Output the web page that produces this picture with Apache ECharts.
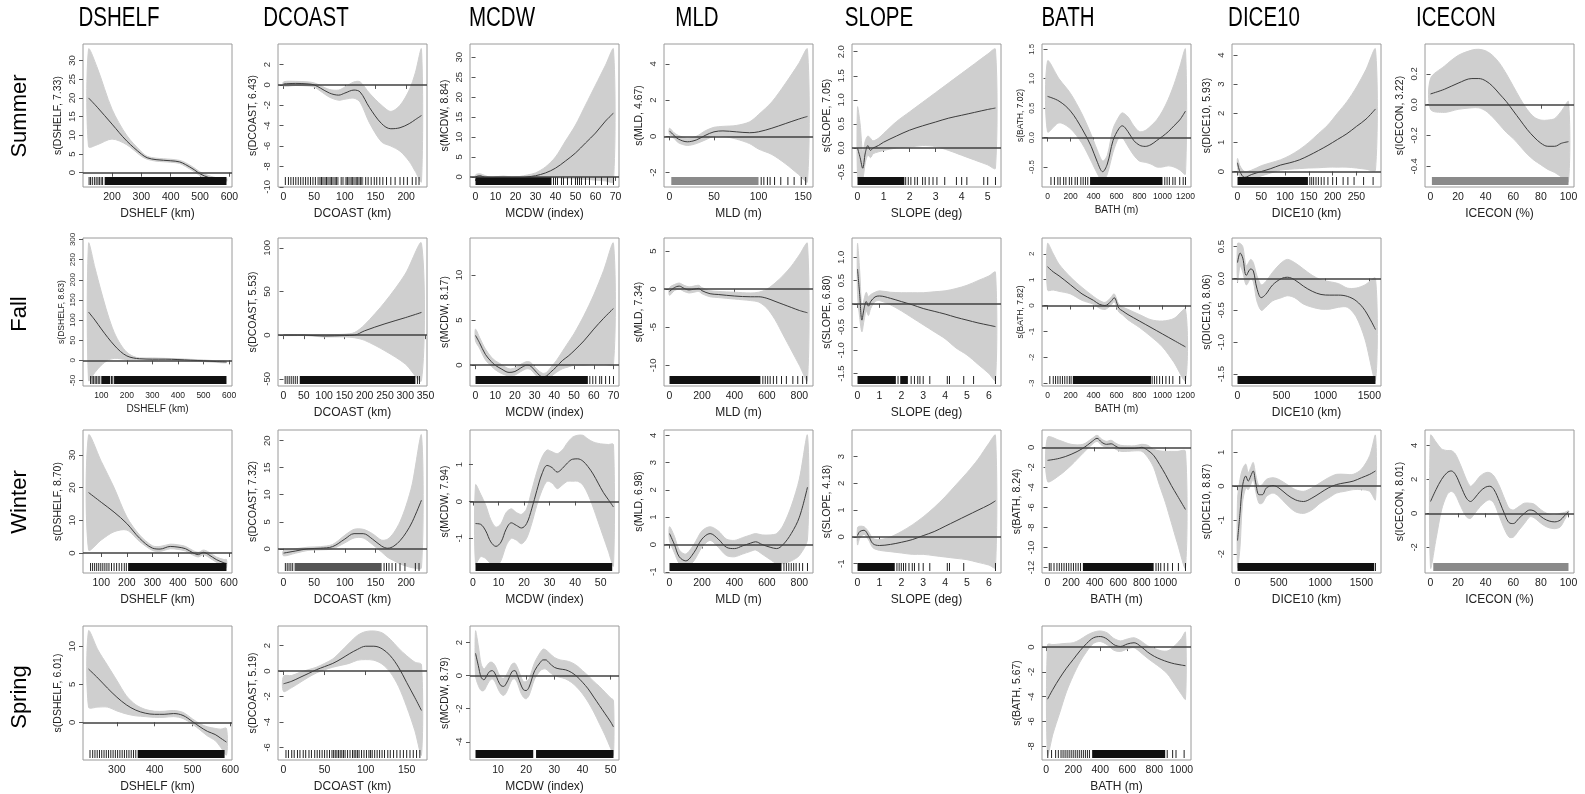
<!DOCTYPE html>
<html><head><meta charset="utf-8">
<script src="https://cdn.jsdelivr.net/npm/echarts@6/dist/echarts.min.js"></script>
<style>html,body{margin:0;padding:0;background:#fff}#c{width:1585px;height:794px}</style>
</head><body><div id="c"></div>
<script>
// ---------------- column / row labels ----------------
const colNames = ['DSHELF','DCOAST','MCDW','MLD','SLOPE','BATH','DICE10','ICECON'];
const rowNames = ['Summer','Fall','Winter','Spring'];

// ---------------- SUMMER ----------------
const S_DSHELF_x   = [120,150,200,250,300,320,350,400,430,450,480,500,530,560,590];
const S_DSHELF_fit = [20,17.5,13,8.5,5,4,3.5,3.2,2.9,2.2,0.8,-0.3,-1.3,-1.9,-1.9];
const S_DSHELF_hi  = [33,28,17,10,5.6,4.4,3.9,3.6,3.3,2.7,1.3,0.2,-0.8,-1.4,-1.4];
const S_DSHELF_lo  = [7,7.5,9,7.5,4.4,3.6,3.1,2.8,2.5,1.7,0.3,-0.8,-1.8,-2.4,-2.4];
const S_DSHELF_rugB = [[175,590]];
const S_DSHELF_rugT = [122,127,133,140,146,152,157,163,168];
const S_DSHELF_xt = [200,300,400,500,600];
const S_DSHELF_yt = [0,5,10,15,20,25,30];

const S_DCOAST_x   = [0,20,40,50,60,75,90,100,115,125,140,160,175,190,205,215,225];
const S_DCOAST_fit = [0.1,0.15,0.1,0,-0.3,-0.8,-1.0,-0.8,-0.5,-0.7,-2.2,-3.8,-4.3,-4.2,-3.8,-3.4,-3.0];
const S_DCOAST_hi  = [0.3,0.35,0.3,0.2,-0.05,-0.45,-0.5,-0.2,0.3,0.3,-0.8,-2.0,-2.6,-2.0,-0.5,1.2,3.5];
const S_DCOAST_lo  = [-0.1,-0.05,-0.1,-0.2,-0.6,-1.2,-1.5,-1.4,-1.3,-1.7,-3.7,-5.6,-6.0,-6.5,-7.5,-8.5,-9.5];
const S_DCOAST_rugB = [[55,90,0.55],[100,130,0.55]];
const S_DCOAST_rugT = [3,8,12,16,20,24,28,32,36,40,44,48,52,62,70,78,86,94,97,104,112,120,126,134,138,143,148,152,157,162,168,175,182,190,196,202,210,216,221];
const S_DCOAST_xt = [0,50,100,150,200];
const S_DCOAST_yt = [-10,-8,-6,-4,-2,0,2];

const S_MCDW_x   = [0,2,5,8,10,14,18,22,26,30,35,40,45,50,55,60,65,69];
const S_MCDW_fit = [0,0.3,-0.2,-0.7,-0.5,-0.2,-0.5,-0.4,0,0.3,1.0,2.2,4,6,8.5,11,14,16];
const S_MCDW_hi  = [0.5,0.8,0.3,-0.2,0,0.2,0,0.1,0.5,1.0,2.5,5,9,13,18,23,28,32];
const S_MCDW_lo  = [-0.5,-0.2,-0.7,-1.2,-1.0,-0.7,-1.0,-0.9,-0.5,-0.3,-0.1,-0.2,-0.4,-0.5,-0.6,-0.8,-1.0,-1.2];
const S_MCDW_rugB = [[0,38]];
const S_MCDW_rugT = [39,40,41,43,44,46,48,50,51,52,53,55,57,60,63,66,69];
const S_MCDW_xt = [0,10,20,30,40,50,60,70];
const S_MCDW_yt = [0,5,10,15,20,25,30];

const S_MLD_x   = [0,5,10,20,30,40,50,60,75,90,100,115,130,145,155];
const S_MLD_fit = [0.3,0.05,-0.15,-0.3,-0.2,0.05,0.25,0.3,0.25,0.2,0.25,0.45,0.7,0.95,1.1];
const S_MLD_hi  = [0.45,0.2,0.05,-0.1,0,0.3,0.5,0.55,0.6,0.8,1.2,1.9,2.9,4.0,4.8];
const S_MLD_lo  = [0.1,-0.1,-0.35,-0.5,-0.4,-0.2,0,0,-0.15,-0.4,-0.7,-1.0,-1.5,-2.1,-2.5];
const S_MLD_rugB = [[2,100,0.55]];
const S_MLD_rugT = [103,106,110,113,118,125,133,140,148,153];
const S_MLD_xt = [0,50,100,150];
const S_MLD_yt = [-2,0,2,4];

const S_SLOPE_x   = [0,0.1,0.2,0.3,0.4,0.5,0.6,0.8,1,1.5,2,2.5,3,3.5,4,4.5,5,5.3];
const S_SLOPE_fit = [0,-0.2,-0.42,-0.1,0.05,-0.05,0,0.05,0.12,0.25,0.37,0.46,0.54,0.62,0.68,0.74,0.8,0.83];
const S_SLOPE_hi  = [0.85,0.5,-0.1,0.15,0.25,0.2,0.15,0.2,0.3,0.55,0.75,0.95,1.15,1.35,1.55,1.75,1.95,2.05];
const S_SLOPE_lo  = [-0.6,-0.7,-0.65,-0.3,-0.15,-0.2,-0.12,-0.08,-0.05,0,0.02,0.05,0.03,-0.05,-0.15,-0.25,-0.35,-0.42];
const S_SLOPE_rugB = [[0,1.8]];
const S_SLOPE_rugT = [1.85,1.95,2.05,2.2,2.3,2.5,2.6,2.75,2.9,3.05,3.35,3.8,4.0,4.2,4.85,5.0,5.3];
const S_SLOPE_xt = [0,1,2,3,4,5];
const S_SLOPE_yt = [-0.5,0,0.5,1,1.5,2];

const S_BATH_x   = [0,100,200,300,380,430,480,520,570,620,650,700,750,800,850,900,950,1000,1050,1100,1150,1200];
const S_BATH_fit = [0.7,0.62,0.45,0.15,-0.15,-0.4,-0.58,-0.45,-0.05,0.15,0.2,0.1,-0.05,-0.13,-0.15,-0.12,-0.05,0.02,0.1,0.2,0.3,0.45];
const S_BATH_hi  = [1.3,1.0,0.75,0.4,0.05,-0.2,-0.4,-0.3,0.15,0.35,0.42,0.35,0.2,0.1,0.12,0.2,0.3,0.45,0.65,0.9,1.2,1.5];
const S_BATH_lo  = [0.1,0.25,0.15,-0.1,-0.4,-0.6,-0.75,-0.62,-0.25,0,0,-0.15,-0.3,-0.4,-0.42,-0.45,-0.5,-0.5,-0.48,-0.5,-0.55,-0.62];
const S_BATH_rugB = [[370,1000]];
const S_BATH_rugT = [30,60,90,110,140,160,190,210,240,260,290,310,330,350,1020,1040,1060,1090,1110,1150,1180,1200];
const S_BATH_xt = [0,200,400,600,800,1000,1200];
const S_BATH_yt = [-0.5,0,0.5,1,1.5];

const S_DICE10_x   = [0,5,15,30,50,70,90,110,130,150,170,190,210,230,250,270,290];
const S_DICE10_fit = [0.3,0,-0.2,-0.1,0,0.1,0.22,0.3,0.4,0.55,0.72,0.9,1.1,1.3,1.55,1.8,2.15];
const S_DICE10_hi  = [0.45,0.2,0,0.05,0.2,0.3,0.4,0.55,0.75,1.0,1.3,1.6,2.0,2.4,2.9,3.5,4.2];
const S_DICE10_lo  = [0.15,-0.2,-0.35,-0.25,-0.15,-0.05,0.05,0.08,0.1,0.12,0.13,0.15,0.15,0.15,0.12,0.08,0.05];
const S_DICE10_rugB = [[0,148]];
const S_DICE10_rugT = [152,156,160,165,170,176,182,190,200,208,222,232,245,265,285];
const S_DICE10_xt = [0,50,100,150,200,250];
const S_DICE10_yt = [0,1,2,3,4];

const S_ICECON_x   = [0,10,20,30,35,40,45,50,55,60,65,70,75,80,85,90,95,100];
const S_ICECON_fit = [0.07,0.1,0.14,0.17,0.17,0.155,0.12,0.07,0.02,-0.04,-0.1,-0.16,-0.21,-0.25,-0.27,-0.27,-0.25,-0.24];
const S_ICECON_hi  = [0.17,0.25,0.32,0.355,0.36,0.35,0.32,0.27,0.2,0.12,0.04,-0.03,-0.08,-0.1,-0.1,-0.09,-0.04,0.02];
const S_ICECON_lo  = [-0.03,-0.05,-0.03,-0.02,-0.02,-0.04,-0.08,-0.13,-0.18,-0.22,-0.27,-0.32,-0.36,-0.39,-0.42,-0.44,-0.47,-0.5];
const S_ICECON_rugB = [[1,100,0.55]];
const S_ICECON_rugT = [];
const S_ICECON_xt = [0,20,40,60,80,100];
const S_ICECON_yt = [-0.4,-0.2,0,0.2];

// ---------------- FALL ----------------
const F_DSHELF_x   = [50,75,100,125,150,175,200,225,250,300,350,400,450,500,550,590];
const F_DSHELF_fit = [120,100,78,57,38,22,11,6,4,3,3,2,0.5,-1,-3,-4];
const F_DSHELF_hi  = [290,230,170,115,70,40,20,10,6,6,5,4,2.5,1,-1,-2];
const F_DSHELF_lo  = [-50,-30,-12,0,5,4,2,2,2,0.5,1,0,-1.5,-3,-5,-6];
const F_DSHELF_rugB = [[100,135],[150,590]];
const F_DSHELF_rugT = [58,64,70,76,82,88,94,140,145];
const F_DSHELF_xt = [100,200,300,400,500,600];
const F_DSHELF_yt = [-50,0,50,100,150,200,250,300];

const F_DCOAST_x   = [0,50,100,150,175,200,250,300,340];
const F_DCOAST_fit = [0,0,-1,-0.5,0,5,13,20,26];
const F_DCOAST_hi  = [0.5,0.5,0.5,1,3,12,38,70,105];
const F_DCOAST_lo  = [-0.5,-0.5,-2,-2,-3,-6,-18,-33,-52];
const F_DCOAST_rugB = [[40,325]];
const F_DCOAST_rugT = [4,9,14,19,24,29,34,330,335];
const F_DCOAST_xt = [0,50,100,150,200,250,300,350];
const F_DCOAST_yt = [-50,0,50,100];

const F_MCDW_x   = [0,2,5,8,10,13,17,20,23,26,28,31,34,36,38,41,44,47,50,55,60,65,70];
const F_MCDW_fit = [3.3,2.5,1.2,0.4,0,-0.4,-0.8,-0.7,-0.3,0,-0.1,-0.8,-1.3,-1.2,-0.8,-0.2,0.5,1.0,1.6,2.7,4.0,5.2,6.3];
const F_MCDW_hi  = [4.0,3.1,1.8,0.9,0.5,0.1,-0.4,-0.3,0.1,0.4,0.3,-0.4,-0.9,-0.8,-0.3,0.5,1.5,2.5,3.5,5.5,7.8,10.5,13.5];
const F_MCDW_lo  = [2.7,1.9,0.6,-0.1,-0.5,-0.9,-1.2,-1.1,-0.7,-0.4,-0.5,-1.2,-1.7,-1.6,-1.3,-0.8,-0.4,-0.2,0,0,0.1,0.1,0.1];
const F_MCDW_rugB = [[0,57]];
const F_MCDW_rugT = [58,59.5,61,63,64,66,68,70];
const F_MCDW_xt = [0,10,20,30,40,50,60,70];
const F_MCDW_yt = [0,5,10];

const F_MLD_x   = [0,30,60,90,120,150,180,200,250,300,400,500,550,600,650,700,750,800,850];
const F_MLD_fit = [-0.3,0.2,0.4,0.1,-0.1,0,0.1,-0.2,-0.6,-0.7,-0.9,-1.0,-1.0,-1.2,-1.6,-2.0,-2.4,-2.8,-3.1];
const F_MLD_hi  = [0.2,0.6,0.8,0.5,0.3,0.4,0.5,0.2,-0.2,-0.3,-0.4,-0.5,-0.4,0,0.8,1.8,3,4.5,6];
const F_MLD_lo  = [-0.8,-0.2,0,-0.3,-0.5,-0.4,-0.3,-0.6,-1.0,-1.1,-1.3,-1.5,-1.7,-2.5,-4,-6,-8,-10,-12];
const F_MLD_rugB = [[0,560]];
const F_MLD_rugT = [575,590,605,620,640,660,690,720,760,790,820,845];
const F_MLD_xt = [0,200,400,600,800];
const F_MLD_yt = [-10,-5,0,5];

const F_SLOPE_x   = [0,0.1,0.2,0.3,0.4,0.5,0.6,0.8,1,1.5,2,2.5,3,3.5,4,4.5,5,5.5,6,6.3];
const F_SLOPE_fit = [0.75,0.2,-0.35,-0.1,0.05,-0.05,0.05,0.15,0.17,0.12,0.05,-0.02,-0.1,-0.16,-0.22,-0.29,-0.35,-0.41,-0.46,-0.49];
const F_SLOPE_hi  = [1.3,0.7,-0.1,0.1,0.25,0.15,0.2,0.25,0.28,0.25,0.24,0.24,0.24,0.26,0.28,0.33,0.4,0.5,0.6,0.68];
const F_SLOPE_lo  = [0.2,-0.3,-0.6,-0.35,-0.15,-0.25,-0.1,0.05,0.07,-0.02,-0.15,-0.3,-0.45,-0.6,-0.75,-0.95,-1.1,-1.3,-1.5,-1.65];
const F_SLOPE_rugB = [[0,1.75],[1.95,2.3]];
const F_SLOPE_rugT = [1.85,2.45,2.6,2.75,2.85,3.0,3.3,4.1,4.2,4.85,5.3,6.3];
const F_SLOPE_xt = [0,1,2,3,4,5,6];
const F_SLOPE_yt = [-1.5,-1,-0.5,0,0.5,1];

const F_BATH_x   = [0,50,100,200,300,400,450,500,550,580,620,650,700,800,900,1000,1100,1200];
const F_BATH_fit = [1.5,1.3,1.15,0.8,0.45,0.2,0.05,0,0.15,0.3,-0.1,-0.2,-0.35,-0.6,-0.85,-1.1,-1.35,-1.6];
const F_BATH_hi  = [2.4,2.0,1.6,1.1,0.7,0.35,0.2,0.12,0.3,0.45,0.05,-0.05,-0.15,-0.35,-0.55,-0.6,-0.5,-0.15];
const F_BATH_lo  = [0.6,0.6,0.55,0.45,0.2,0.05,-0.1,-0.15,0,0.15,-0.25,-0.35,-0.55,-0.85,-1.2,-1.6,-2.2,-2.9];
const F_BATH_rugB = [[220,900]];
const F_BATH_rugT = [20,50,70,90,110,130,150,170,190,205,910,930,950,975,1000,1030,1060,1090,1150,1200];
const F_BATH_xt = [0,200,400,600,800,1000,1200];
const F_BATH_yt = [-3,-2,-1,0,1,2];

const F_DICE10_x   = [0,30,60,100,150,180,220,270,320,400,500,570,650,750,850,950,1050,1150,1250,1350,1450,1570];
const F_DICE10_fit = [0.25,0.4,0.32,0.05,0.15,0.12,-0.15,-0.3,-0.25,-0.1,0,0.02,-0.02,-0.12,-0.2,-0.25,-0.26,-0.26,-0.28,-0.35,-0.5,-0.8];
const F_DICE10_hi  = [0.55,0.55,0.5,0.2,0.3,0.25,0.05,-0.1,-0.05,0.1,0.25,0.3,0.25,0.15,0.05,-0.02,-0.05,-0.08,-0.15,-0.15,-0.1,0.0];
const F_DICE10_lo  = [-0.05,0.2,0.1,-0.1,0,-0.05,-0.35,-0.5,-0.45,-0.35,-0.3,-0.27,-0.3,-0.4,-0.45,-0.48,-0.48,-0.45,-0.45,-0.6,-0.95,-1.6];
const F_DICE10_rugB = [[0,1570]];
const F_DICE10_rugT = [];
const F_DICE10_xt = [0,500,1000,1500];
const F_DICE10_yt = [-1.5,-1,-0.5,0,0.5];

// ---------------- WINTER ----------------
const W_DSHELF_x   = [50,100,150,200,250,300,330,370,400,430,460,480,500,520,550,580,590];
const W_DSHELF_fit = [18.5,15.5,12.5,9,4.5,1.5,1.2,2,1.8,1.3,0,-0.5,0.2,-0.5,-2,-3,-3.2];
const W_DSHELF_hi  = [36,28,20,11,5.5,2.2,2,2.7,2.5,2,0.7,0.2,0.9,0.3,-1.2,-2,-2];
const W_DSHELF_lo  = [1,4,6.5,7,3.5,0.8,0.5,1.3,1.1,0.6,-0.7,-1.2,-0.5,-1.3,-2.8,-4,-4.5];
const W_DSHELF_rugB = [[205,590]];
const W_DSHELF_rugT = [58,66,74,82,90,98,106,114,122,130,140,150,160,170,180,190,198];
const W_DSHELF_xt = [100,200,300,400,500,600];
const W_DSHELF_yt = [0,10,20,30];

const W_DCOAST_x   = [0,20,40,60,80,100,115,130,145,160,170,180,190,200,210,225];
const W_DCOAST_fit = [-0.8,-0.4,0,0.1,0.4,1.8,2.8,2.8,1.8,0.5,0.1,0.5,1.5,3,5,9];
const W_DCOAST_hi  = [-0.3,0,0.3,0.4,0.8,2.5,3.6,3.6,2.8,1.6,1.8,3,5,8,12,21];
const W_DCOAST_lo  = [-1.3,-0.8,-0.3,-0.2,0,1.1,2,2,0.8,-0.6,-1.6,-2.2,-2.8,-3.2,-3.5,-3.5];
const W_DCOAST_rugB = [[18,160,0.7]];
const W_DCOAST_rugT = [3,6,9,12,15,164,168,172,177,183,190,198,215,221];
const W_DCOAST_xt = [0,50,100,150,200];
const W_DCOAST_yt = [0,5,10,15,20];

const W_MCDW_x   = [1,3,5,7,9,11,13,15,17,19,21,23,25,27,29,31,33,35,37,39,41,43,45,47,49,51,53,55];
const W_MCDW_fit = [-0.6,-0.62,-0.8,-1.1,-1.22,-1.1,-0.75,-0.58,-0.65,-0.72,-0.6,-0.2,0.3,0.75,0.98,0.92,0.8,0.9,1.05,1.15,1.16,1.1,0.95,0.75,0.5,0.25,0.05,-0.15];
const W_MCDW_hi  = [0.45,0.2,-0.1,-0.5,-0.7,-0.6,-0.3,-0.2,-0.3,-0.35,-0.2,0.3,0.8,1.2,1.4,1.35,1.3,1.4,1.6,1.75,1.8,1.8,1.7,1.62,1.58,1.56,1.55,1.55];
const W_MCDW_lo  = [-1.7,-1.5,-1.55,-1.7,-1.8,-1.6,-1.2,-1.0,-1.05,-1.15,-1.0,-0.6,-0.1,0.3,0.55,0.5,0.35,0.45,0.55,0.55,0.55,0.45,0.2,-0.15,-0.55,-0.95,-1.35,-1.75];
const W_MCDW_rugB = [[1,54.5]];
const W_MCDW_rugT = [];
const W_MCDW_xt = [0,10,20,30,40,50];
const W_MCDW_yt = [-1,0,1];

const W_MLD_x   = [0,30,60,100,150,200,250,300,350,400,450,500,530,570,620,660,700,750,800,850];
const W_MLD_fit = [0.4,0,-0.45,-0.6,-0.3,0.2,0.4,0.2,-0.1,-0.15,-0.05,0.05,0.1,0,-0.1,-0.15,0,0.4,1.0,2.1];
const W_MLD_hi  = [0.65,0.3,-0.2,-0.35,0,0.5,0.65,0.5,0.2,0.15,0.25,0.35,0.4,0.35,0.35,0.4,0.7,1.4,2.4,4.0];
const W_MLD_lo  = [0.15,-0.3,-0.7,-0.85,-0.6,-0.1,0.15,-0.1,-0.4,-0.45,-0.35,-0.25,-0.2,-0.35,-0.55,-0.7,-0.7,-0.6,-0.4,0.2];
const W_MLD_rugB = [[0,690]];
const W_MLD_rugT = [705,720,735,750,765,780,800,820,850];
const W_MLD_xt = [0,200,400,600,800];
const W_MLD_yt = [-1,0,1,2,3,4];

const W_SLOPE_x   = [0,0.1,0.3,0.5,0.7,1,1.5,2,2.5,3,3.5,4,4.5,5,5.5,6,6.3];
const W_SLOPE_fit = [0.05,0.2,0.25,0.05,-0.25,-0.32,-0.28,-0.2,-0.1,0.05,0.2,0.4,0.6,0.8,1.0,1.2,1.35];
const W_SLOPE_hi  = [0.35,0.4,0.38,0.2,-0.05,-0.1,0,0.2,0.45,0.75,1.1,1.5,1.95,2.4,2.9,3.5,3.8];
const W_SLOPE_lo  = [-0.3,-0.05,0.1,-0.1,-0.4,-0.5,-0.55,-0.6,-0.65,-0.65,-0.7,-0.75,-0.8,-0.85,-0.95,-1.05,-1.15];
const W_SLOPE_rugB = [[0,1.7]];
const W_SLOPE_rugT = [1.8,1.9,2.0,2.1,2.2,2.35,2.5,2.6,2.8,3.0,3.3,4.1,4.2,4.85,6.3];
const W_SLOPE_xt = [0,1,2,3,4,5,6];
const W_SLOPE_yt = [-1,0,1,2,3,4];

const W_BATH_x   = [0,100,200,300,380,420,460,500,540,580,620,680,740,800,850,900,950,1000,1050,1100,1170];
const W_BATH_fit = [-1.3,-1.1,-0.7,-0.1,0.6,0.9,0.5,0.3,0.35,0.1,-0.1,-0.1,-0.1,0,-0.3,-0.8,-1.7,-2.7,-3.8,-4.8,-6.2];
const W_BATH_hi  = [1.0,0.7,0.3,0.3,0.9,1.2,0.8,0.6,0.7,0.4,0.2,0.15,0.15,0.3,0.2,-0.2,-0.35,-0.4,-0.4,-0.4,-0.4];
const W_BATH_lo  = [-3.4,-2.8,-1.8,-0.6,0.3,0.6,0.2,0,0.05,-0.2,-0.4,-0.4,-0.35,-0.4,-1.0,-2.0,-3.8,-5.5,-7.5,-9.5,-12];
const W_BATH_rugB = [[300,900]];
const W_BATH_rugT = [15,30,55,80,100,120,140,160,180,200,220,240,260,280,920,940,960,990,1020,1060,1110,1170];
const W_BATH_xt = [0,200,400,600,800,1000];
const W_BATH_yt = [-12,-10,-8,-6,-4,-2,0];

const W_DICE10_x   = [0,30,60,100,130,160,190,220,260,300,350,430,500,600,700,800,900,1000,1100,1200,1300,1400,1500,1600,1670];
const W_DICE10_fit = [-1.6,-0.8,0,0.3,0.15,0.3,0.45,0.1,-0.25,-0.25,-0.05,0.02,-0.05,-0.25,-0.4,-0.45,-0.35,-0.2,-0.05,0.05,0.1,0.15,0.25,0.35,0.45];
const W_DICE10_hi  = [-0.4,0.2,0.5,0.65,0.4,0.55,0.7,0.35,0,0.05,0.2,0.25,0.2,0.05,-0.1,-0.15,-0.05,0.1,0.25,0.35,0.35,0.35,0.5,0.9,1.5];
const W_DICE10_lo  = [-2.4,-1.8,-0.5,-0.05,-0.1,0.05,0.2,-0.15,-0.5,-0.5,-0.3,-0.2,-0.3,-0.55,-0.75,-0.8,-0.7,-0.5,-0.35,-0.2,-0.15,-0.1,-0.1,-0.15,-0.4];
const W_DICE10_rugB = [[0,1655]];
const W_DICE10_rugT = [1670];
const W_DICE10_xt = [0,500,1000,1500];
const W_DICE10_yt = [-2,-1,0,1];

const W_ICECON_x   = [0,4,8,12,15,18,22,26,29,32,36,40,43,46,50,54,57,60,64,68,72,75,78,82,86,90,94,97,100];
const W_ICECON_fit = [0.7,1.4,2.0,2.4,2.5,2.3,1.6,0.9,0.7,0.9,1.3,1.55,1.6,1.4,0.7,-0.1,-0.55,-0.6,-0.3,0,0.2,0.15,-0.05,-0.3,-0.45,-0.5,-0.4,-0.15,0.1];
const W_ICECON_hi  = [4.6,4.2,3.8,3.7,3.7,3.5,2.8,2.0,1.6,1.8,2.2,2.4,2.4,2.2,1.6,0.8,0.3,0.2,0.4,0.6,0.6,0.55,0.35,0.1,-0.05,-0.1,0,0.05,0.15];
const W_ICECON_lo  = [-3.2,-1.5,0.2,1.1,1.3,1.1,0.4,-0.2,-0.3,0,0.4,0.7,0.8,0.6,-0.2,-1.0,-1.4,-1.4,-1.0,-0.6,-0.2,-0.25,-0.45,-0.7,-0.85,-0.9,-0.8,-0.4,0.05];
const W_ICECON_rugB = [[2,100,0.55]];
const W_ICECON_rugT = [];
const W_ICECON_xt = [0,20,40,60,80,100];
const W_ICECON_yt = [-2,0,2,4];

// ---------------- SPRING ----------------
const P_DSHELF_x   = [225,250,275,300,325,350,375,400,425,450,475,500,520,540,560,575,590];
const P_DSHELF_fit = [7,5.8,4.5,3.3,2.3,1.6,1.2,1.05,1.05,1.15,0.9,0.1,-0.6,-1.2,-1.6,-2.1,-2.6];
const P_DSHELF_hi  = [12,9.5,7.5,5.5,3.5,2.3,1.7,1.45,1.45,1.55,1.3,0.45,-0.2,-0.6,-0.8,-0.9,-0.8];
const P_DSHELF_lo  = [2,2,2,1.5,1.1,0.85,0.75,0.65,0.65,0.75,0.5,-0.25,-1.0,-1.8,-2.4,-3.3,-4.3];
const P_DSHELF_rugB = [[355,585]];
const P_DSHELF_rugT = [229,236,242,248,254,260,266,272,278,284,290,296,302,308,314,320,326,332,338,344,350];
const P_DSHELF_xt = [300,400,500,600];
const P_DSHELF_yt = [0,5,10];

const P_DCOAST_x   = [0,10,20,30,40,50,60,70,80,90,100,110,120,130,140,150,160,168];
const P_DCOAST_fit = [-1.0,-0.8,-0.5,-0.2,0.1,0.35,0.6,0.95,1.35,1.7,1.95,1.95,1.75,1.2,0.3,-0.9,-2.1,-3.1];
const P_DCOAST_hi  = [-0.4,-0.35,-0.1,0.1,0.3,0.6,0.95,1.55,2.2,2.8,3.1,3.15,3.0,2.5,1.8,1.2,0.7,0.5];
const P_DCOAST_lo  = [-1.6,-1.3,-0.9,-0.5,-0.15,0.1,0.3,0.45,0.6,0.85,0.9,0.85,0.55,-0.1,-1.2,-2.8,-4.7,-6.6];
const P_DCOAST_rugB = [];
const P_DCOAST_rugT = [3,6,10,13,17,20,24,27,31,34,38,41,44,47,50,53,56,59,61,63,65,67,69,71,73,75,78,81,84,86,88,90,92,95,98,101,104,106,108,111,114,117,120,123,127,130,134,138,142,146,150,154,158,162,166];
const P_DCOAST_xt = [0,50,100,150];
const P_DCOAST_yt = [-6,-4,-2,0,2];

const P_MCDW_x   = [2,3,4,5,6,7,8,9,10,11,12,13,14,15,16,17,18,19,20,21,22,23,25,26,27,28,30,32,34,36,38,40,42,44,46,48,50,51];
const P_MCDW_fit = [1.35,0.6,-0.1,-0.25,0,0.25,0.3,0.1,-0.3,-0.6,-0.65,-0.45,-0.1,0.25,0.3,-0.05,-0.5,-0.85,-0.9,-0.7,-0.2,0.3,0.8,0.95,0.95,0.8,0.5,0.4,0.35,0.2,-0.05,-0.4,-0.8,-1.3,-1.8,-2.3,-2.8,-3.1];
const P_MCDW_hi  = [2.7,1.8,0.7,0.4,0.6,0.8,0.8,0.6,0.2,-0.1,-0.15,0.05,0.4,0.7,0.75,0.45,0,-0.35,-0.35,-0.2,0.3,0.8,1.4,1.6,1.55,1.4,1.1,0.95,0.9,0.8,0.6,0.3,0,-0.35,-0.65,-1.0,-1.35,-1.5];
const P_MCDW_lo  = [0,-0.6,-0.9,-0.9,-0.6,-0.3,-0.2,-0.4,-0.8,-1.1,-1.2,-1.0,-0.6,-0.25,-0.2,-0.5,-1.0,-1.3,-1.4,-1.2,-0.7,-0.2,0.3,0.4,0.4,0.25,0,-0.1,-0.2,-0.4,-0.7,-1.1,-1.6,-2.2,-2.9,-3.6,-4.4,-4.8];
const P_MCDW_rugB = [[2,22.5],[23.5,51]];
const P_MCDW_rugT = [];
const P_MCDW_xt = [10,20,30,40,50];
const P_MCDW_yt = [-4,-2,0,2];

const P_BATH_x   = [10,50,100,150,200,250,300,350,400,450,500,550,600,650,700,750,800,850,900,950,1000,1030];
const P_BATH_fit = [-4.2,-3.4,-2.5,-1.7,-1.0,-0.3,0.3,0.75,0.85,0.65,0.2,0.05,0.25,0.35,0.05,-0.4,-0.75,-1.0,-1.2,-1.35,-1.45,-1.5];
const P_BATH_hi  = [0.2,0.2,0.25,0.3,0.35,0.6,0.95,1.2,1.3,1.15,0.7,0.5,0.65,0.75,0.5,0.1,-0.1,-0.3,-0.3,0.1,0.7,1.2];
const P_BATH_lo  = [-8.7,-7,-5.3,-3.6,-2.3,-1.2,-0.35,0.3,0.45,0.2,-0.25,-0.35,-0.15,-0.05,-0.45,-0.9,-1.3,-1.7,-2.2,-3.0,-3.8,-4.2];
const P_BATH_rugB = [[340,880]];
const P_BATH_rugT = [12,40,70,90,110,125,140,155,170,185,200,215,230,245,260,275,290,305,320,895,935,960,1020];
const P_BATH_xt = [0,200,400,600,800,1000];
const P_BATH_yt = [-8,-6,-4,-2,0];

// ---------------- panel list (row, column, labels, arrays) ----------------
const panels = [
  {r:0,c:0,yName:'s(DSHELF, 7.33)',xName:'DSHELF (km)',x:S_DSHELF_x,fit:S_DSHELF_fit,hi:S_DSHELF_hi,lo:S_DSHELF_lo,rb:S_DSHELF_rugB,rt:S_DSHELF_rugT,xt:S_DSHELF_xt,yt:S_DSHELF_yt},
  {r:0,c:1,yName:'s(DCOAST, 6.43)',xName:'DCOAST (km)',x:S_DCOAST_x,fit:S_DCOAST_fit,hi:S_DCOAST_hi,lo:S_DCOAST_lo,rb:S_DCOAST_rugB,rt:S_DCOAST_rugT,xt:S_DCOAST_xt,yt:S_DCOAST_yt},
  {r:0,c:2,yName:'s(MCDW, 8.84)',xName:'MCDW (index)',x:S_MCDW_x,fit:S_MCDW_fit,hi:S_MCDW_hi,lo:S_MCDW_lo,rb:S_MCDW_rugB,rt:S_MCDW_rugT,xt:S_MCDW_xt,yt:S_MCDW_yt},
  {r:0,c:3,yName:'s(MLD, 4.67)',xName:'MLD (m)',x:S_MLD_x,fit:S_MLD_fit,hi:S_MLD_hi,lo:S_MLD_lo,rb:S_MLD_rugB,rt:S_MLD_rugT,xt:S_MLD_xt,yt:S_MLD_yt},
  {r:0,c:4,yName:'s(SLOPE, 7.05)',xName:'SLOPE (deg)',x:S_SLOPE_x,fit:S_SLOPE_fit,hi:S_SLOPE_hi,lo:S_SLOPE_lo,rb:S_SLOPE_rugB,rt:S_SLOPE_rugT,xt:S_SLOPE_xt,yt:S_SLOPE_yt},
  {r:0,c:5,yName:'s(BATH, 7.02)',xName:'BATH (m)',x:S_BATH_x,fit:S_BATH_fit,hi:S_BATH_hi,lo:S_BATH_lo,rb:S_BATH_rugB,rt:S_BATH_rugT,xt:S_BATH_xt,yt:S_BATH_yt,small:true},
  {r:0,c:6,yName:'s(DICE10, 5.93)',xName:'DICE10 (km)',x:S_DICE10_x,fit:S_DICE10_fit,hi:S_DICE10_hi,lo:S_DICE10_lo,rb:S_DICE10_rugB,rt:S_DICE10_rugT,xt:S_DICE10_xt,yt:S_DICE10_yt},
  {r:0,c:7,yName:'s(ICECON, 3.22)',xName:'ICECON (%)',x:S_ICECON_x,fit:S_ICECON_fit,hi:S_ICECON_hi,lo:S_ICECON_lo,rb:S_ICECON_rugB,rt:S_ICECON_rugT,xt:S_ICECON_xt,yt:S_ICECON_yt},

  {r:1,c:0,yName:'s(DSHELF, 8.63)',xName:'DSHELF (km)',x:F_DSHELF_x,fit:F_DSHELF_fit,hi:F_DSHELF_hi,lo:F_DSHELF_lo,rb:F_DSHELF_rugB,rt:F_DSHELF_rugT,xt:F_DSHELF_xt,yt:F_DSHELF_yt,small:true},
  {r:1,c:1,yName:'s(DCOAST, 5.53)',xName:'DCOAST (km)',x:F_DCOAST_x,fit:F_DCOAST_fit,hi:F_DCOAST_hi,lo:F_DCOAST_lo,rb:F_DCOAST_rugB,rt:F_DCOAST_rugT,xt:F_DCOAST_xt,yt:F_DCOAST_yt},
  {r:1,c:2,yName:'s(MCDW, 8.17)',xName:'MCDW (index)',x:F_MCDW_x,fit:F_MCDW_fit,hi:F_MCDW_hi,lo:F_MCDW_lo,rb:F_MCDW_rugB,rt:F_MCDW_rugT,xt:F_MCDW_xt,yt:F_MCDW_yt},
  {r:1,c:3,yName:'s(MLD, 7.34)',xName:'MLD (m)',x:F_MLD_x,fit:F_MLD_fit,hi:F_MLD_hi,lo:F_MLD_lo,rb:F_MLD_rugB,rt:F_MLD_rugT,xt:F_MLD_xt,yt:F_MLD_yt},
  {r:1,c:4,yName:'s(SLOPE, 6.80)',xName:'SLOPE (deg)',x:F_SLOPE_x,fit:F_SLOPE_fit,hi:F_SLOPE_hi,lo:F_SLOPE_lo,rb:F_SLOPE_rugB,rt:F_SLOPE_rugT,xt:F_SLOPE_xt,yt:F_SLOPE_yt},
  {r:1,c:5,yName:'s(BATH, 7.82)',xName:'BATH (m)',x:F_BATH_x,fit:F_BATH_fit,hi:F_BATH_hi,lo:F_BATH_lo,rb:F_BATH_rugB,rt:F_BATH_rugT,xt:F_BATH_xt,yt:F_BATH_yt,small:true},
  {r:1,c:6,yName:'s(DICE10, 8.06)',xName:'DICE10 (km)',x:F_DICE10_x,fit:F_DICE10_fit,hi:F_DICE10_hi,lo:F_DICE10_lo,rb:F_DICE10_rugB,rt:F_DICE10_rugT,xt:F_DICE10_xt,yt:F_DICE10_yt},

  {r:2,c:0,yName:'s(DSHELF, 8.70)',xName:'DSHELF (km)',x:W_DSHELF_x,fit:W_DSHELF_fit,hi:W_DSHELF_hi,lo:W_DSHELF_lo,rb:W_DSHELF_rugB,rt:W_DSHELF_rugT,xt:W_DSHELF_xt,yt:W_DSHELF_yt},
  {r:2,c:1,yName:'s(DCOAST, 7.32)',xName:'DCOAST (km)',x:W_DCOAST_x,fit:W_DCOAST_fit,hi:W_DCOAST_hi,lo:W_DCOAST_lo,rb:W_DCOAST_rugB,rt:W_DCOAST_rugT,xt:W_DCOAST_xt,yt:W_DCOAST_yt},
  {r:2,c:2,yName:'s(MCDW, 7.94)',xName:'MCDW (index)',x:W_MCDW_x,fit:W_MCDW_fit,hi:W_MCDW_hi,lo:W_MCDW_lo,rb:W_MCDW_rugB,rt:W_MCDW_rugT,xt:W_MCDW_xt,yt:W_MCDW_yt},
  {r:2,c:3,yName:'s(MLD, 6.98)',xName:'MLD (m)',x:W_MLD_x,fit:W_MLD_fit,hi:W_MLD_hi,lo:W_MLD_lo,rb:W_MLD_rugB,rt:W_MLD_rugT,xt:W_MLD_xt,yt:W_MLD_yt},
  {r:2,c:4,yName:'s(SLOPE, 4.18)',xName:'SLOPE (deg)',x:W_SLOPE_x,fit:W_SLOPE_fit,hi:W_SLOPE_hi,lo:W_SLOPE_lo,rb:W_SLOPE_rugB,rt:W_SLOPE_rugT,xt:W_SLOPE_xt,yt:W_SLOPE_yt},
  {r:2,c:5,yName:'s(BATH, 8.24)',xName:'BATH (m)',x:W_BATH_x,fit:W_BATH_fit,hi:W_BATH_hi,lo:W_BATH_lo,rb:W_BATH_rugB,rt:W_BATH_rugT,xt:W_BATH_xt,yt:W_BATH_yt},
  {r:2,c:6,yName:'s(DICE10, 8.87)',xName:'DICE10 (km)',x:W_DICE10_x,fit:W_DICE10_fit,hi:W_DICE10_hi,lo:W_DICE10_lo,rb:W_DICE10_rugB,rt:W_DICE10_rugT,xt:W_DICE10_xt,yt:W_DICE10_yt},
  {r:2,c:7,yName:'s(ICECON, 8.01)',xName:'ICECON (%)',x:W_ICECON_x,fit:W_ICECON_fit,hi:W_ICECON_hi,lo:W_ICECON_lo,rb:W_ICECON_rugB,rt:W_ICECON_rugT,xt:W_ICECON_xt,yt:W_ICECON_yt},

  {r:3,c:0,yName:'s(DSHELF, 6.01)',xName:'DSHELF (km)',x:P_DSHELF_x,fit:P_DSHELF_fit,hi:P_DSHELF_hi,lo:P_DSHELF_lo,rb:P_DSHELF_rugB,rt:P_DSHELF_rugT,xt:P_DSHELF_xt,yt:P_DSHELF_yt},
  {r:3,c:1,yName:'s(DCOAST, 5.19)',xName:'DCOAST (km)',x:P_DCOAST_x,fit:P_DCOAST_fit,hi:P_DCOAST_hi,lo:P_DCOAST_lo,rb:P_DCOAST_rugB,rt:P_DCOAST_rugT,xt:P_DCOAST_xt,yt:P_DCOAST_yt},
  {r:3,c:2,yName:'s(MCDW, 8.79)',xName:'MCDW (index)',x:P_MCDW_x,fit:P_MCDW_fit,hi:P_MCDW_hi,lo:P_MCDW_lo,rb:P_MCDW_rugB,rt:P_MCDW_rugT,xt:P_MCDW_xt,yt:P_MCDW_yt},
  {r:3,c:5,yName:'s(BATH, 5.67)',xName:'BATH (m)',x:P_BATH_x,fit:P_BATH_fit,hi:P_BATH_hi,lo:P_BATH_lo,rb:P_BATH_rugB,rt:P_BATH_rugT,xt:P_BATH_xt,yt:P_BATH_yt}
];

// ---------------- layout (pixels) ----------------
const colLeft  = [83,278,470,664,852,1042,1232,1425];
const boxW     = 149;
const rowTop   = [44,238,430,626];
const rowBot   = [187,386,573,763];
const titleX   = [119,306,502,697,879,1068,1264,1456];
const rowLabelY= [116,314,502,697];
const FONT = 'Liberation Sans';

const RUG_H = 8, RUG_OFF = 2;

function decimals(arr){ let d=0; arr.forEach(v=>{const s=String(v); const k=s.indexOf('.'); if(k>=0) d=Math.max(d,s.length-k-1);}); return d; }

const grids=[], xAxes=[], yAxes=[], series=[];
panels.forEach((p,i)=>{
  const xmn=Math.min(...p.x), xmx=Math.max(...p.x);
  const ymn=Math.min(...p.lo), ymx=Math.max(...p.hi);
  const dx=(xmx-xmn)*0.04, dy=(ymx-ymn)*0.04;
  const X0=xmn-dx, X1=xmx+dx, Y0=ymn-dy, Y1=ymx+dy;
  const yd = decimals(p.yt);
  grids.push({left:colLeft[p.c], top:rowTop[p.r], width:boxW, height:rowBot[p.r]-rowTop[p.r],
    show:true, borderColor:'#9a9a9a', borderWidth:1, backgroundColor:'rgba(0,0,0,0)'});
  xAxes.push({gridIndex:i, type:'value', min:X0, max:X1, axisLine:{show:false}, splitLine:{show:false},
    axisTick:{show:true, length:4, customValues:p.xt, lineStyle:{color:'#555'}},
    axisLabel:{customValues:p.xt, fontSize: p.small?8.5:10.5, color:'#222', margin:5, fontFamily:FONT, formatter:v=>String(v)},
    name:p.xName, nameLocation:'middle', nameGap: p.small?18:21,
    nameTextStyle:{fontSize: p.small?10:12, color:'#222', fontFamily:FONT}});
  yAxes.push({gridIndex:i, type:'value', min:Y0, max:Y1, axisLine:{show:false}, splitLine:{show:false},
    axisTick:{show:true, length:4, customValues:p.yt, lineStyle:{color:'#555'}},
    axisLabel:{customValues:p.yt, rotate:90, fontSize: p.small?8:9.5, color:'#333', margin:6,
      fontFamily:FONT, formatter:v=>Number(v).toFixed(yd)},
    name:p.yName, nameLocation:'middle', nameRotate:90, nameGap: p.small?17:19,
    nameTextStyle:{fontSize: p.small?8.5:10.5, color:'#222', fontFamily:FONT}});
  // confidence band polygon
  series.push({type:'custom', xAxisIndex:i, yAxisIndex:i, silent:true, z:1,
    data:p.x.map((v,k)=>[v,p.lo[k],p.hi[k]]), encode:{x:0,y:[1,2]},
    renderItem:(params,api)=>{
      if(params.dataIndexInside!==0) return null;
      const n=params.dataInsideLength, up=[], dn=[];
      for(let k=0;k<n;k++){ up.push(api.coord([api.value(0,k),api.value(2,k)])); dn.push(api.coord([api.value(0,k),api.value(1,k)])); }
      return {type:'polygon', shape:{points:up.concat(dn.reverse()), smooth:0.3}, style:{fill:'#cfcfcf', stroke:'#cfcfcf', lineWidth:1}};
    }});
  // fitted smooth + zero line
  series.push({type:'line', xAxisIndex:i, yAxisIndex:i, z:3, silent:true, showSymbol:false, symbol:'none',
    smooth:0.35, data:p.x.map((v,k)=>[v,p.fit[k]]), lineStyle:{color:'#3c3c3c', width:1},
    markLine:{silent:true, symbol:['none','none'], label:{show:false}, animation:false,
      lineStyle:{color:'#404040', width:1.6, type:'solid'}, data:[{yAxis:0}]}});
  // rug blocks
  if(p.rb.length) series.push({type:'custom', xAxisIndex:i, yAxisIndex:i, silent:true, z:4,
    data:p.rb.map(b=>[b[0],Y0,b[1],b[2]==null?1:b[2]]), encode:{x:0,y:1},
    renderItem:(params,api)=>{
      const a=api.coord([api.value(0),Y0]), b=api.coord([api.value(2),Y0]);
      const s=api.value(3);
      return {type:'rect', shape:{x:a[0], y:a[1]-RUG_OFF-RUG_H, width:Math.max(1,b[0]-a[0]), height:RUG_H},
        style:{fill: s>=1 ? '#111' : (s>=0.7 ? '#555' : '#8a8a8a')}};
    }});
  // rug ticks
  if(p.rt.length) series.push({type:'custom', xAxisIndex:i, yAxisIndex:i, silent:true, z:4,
    data:p.rt.map(t=>[t,Y0]), encode:{x:0,y:1},
    renderItem:(params,api)=>{
      const a=api.coord([api.value(0),Y0]);
      return {type:'line', shape:{x1:a[0], y1:a[1]-RUG_OFF, x2:a[0], y2:a[1]-RUG_OFF-RUG_H}, style:{stroke:'#222', lineWidth:1}};
    }});
});

const graphics=[];
colNames.forEach((t,c)=>graphics.push({type:'text', x:titleX[c], y:19, scaleX:0.76, silent:true,
  style:{text:t, fill:'#000', font:'27px "Liberation Sans"', align:'center', verticalAlign:'middle', textAlign:'center', textVerticalAlign:'middle'}}));
rowNames.forEach((t,r)=>graphics.push({type:'text', x:20, y:rowLabelY[r], rotation:Math.PI/2, silent:true,
  style:{text:t, fill:'#000', font:'22px "Liberation Sans"', align:'center', verticalAlign:'middle', textAlign:'center', textVerticalAlign:'middle'}}));

const chart = echarts.init(document.getElementById('c'), null, {renderer:'canvas'});
chart.setOption({animation:false, backgroundColor:'#fff', grid:grids, xAxis:xAxes, yAxis:yAxes, series, graphic:graphics});
</script></body></html>
